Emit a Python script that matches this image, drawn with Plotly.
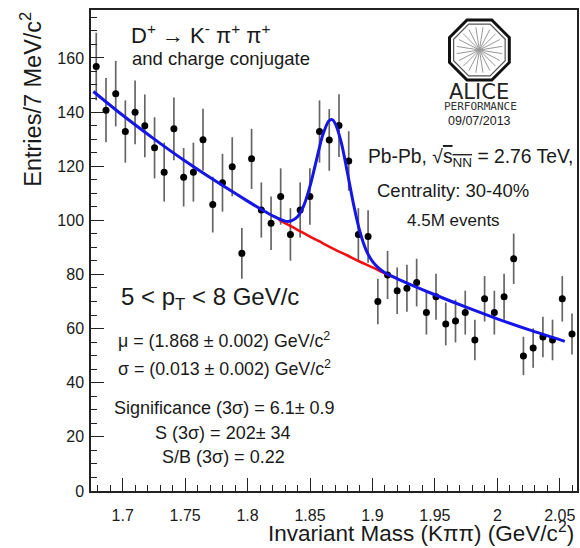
import math
import plotly.graph_objects as go

# ---------------- data ----------------
mass = [1.6788, 1.6866, 1.6944, 1.7021, 1.7099, 1.7177, 1.7255, 1.7332, 1.7410, 1.7488,
        1.7566, 1.7643, 1.7721, 1.7799, 1.7877, 1.7954, 1.8032, 1.8110, 1.8188, 1.8265,
        1.8343, 1.8421, 1.8499, 1.8576, 1.8654, 1.8732, 1.8810, 1.8887, 1.8965, 1.9043,
        1.9121, 1.9198, 1.9276, 1.9354, 1.9432, 1.9509, 1.9587, 1.9665, 1.9743, 1.9820,
        1.9898, 1.9976, 2.0054, 2.0131, 2.0209, 2.0287, 2.0365, 2.0442, 2.0520, 2.0598]
counts = [156.8, 140.7, 146.8, 132.8, 139.9, 134.9, 126.8, 117.8, 133.8, 115.9,
          117.8, 129.8, 105.8, 113.9, 119.8, 87.8, 122.7, 103.8, 98.9, 108.8,
          94.8, 103.8, 108.8, 132.8, 129.7, 135.0, 121.9, 94.8, 94.0, 70.0,
          79.8, 74.0, 74.9, 77.0, 65.9, 71.8, 61.7, 62.8, 65.9, 55.8,
          71.0, 65.9, 71.8, 85.8, 49.9, 52.8, 56.9, 55.8, 71.0, 58.0]
errors = [12.5, 11.9, 12.1, 11.5, 11.8, 11.6, 11.3, 10.9, 11.6, 10.8,
          10.9, 11.4, 10.3, 10.7, 10.9, 9.4, 11.1, 10.2, 9.9, 10.4,
          9.7, 10.2, 10.4, 11.5, 11.4, 11.6, 11.0, 9.7, 9.7, 8.4,
          8.9, 8.6, 8.7, 8.8, 8.1, 8.5, 7.9, 7.9, 8.1, 7.5,
          8.4, 8.1, 8.5, 9.3, 7.1, 7.3, 7.5, 7.5, 8.4, 7.6]

# total fit (blue)
fit_mass = [1.6765, 1.700, 1.725, 1.750, 1.775, 1.800, 1.810, 1.820, 1.830, 1.835,
            1.840, 1.845, 1.850, 1.855, 1.860, 1.865, 1.8678, 1.870, 1.875, 1.880,
            1.885, 1.890, 1.895, 1.900, 1.905, 1.910, 1.920, 1.950, 1.975, 2.000,
            2.025, 2.054]
fit_total = [147.6, 138.8, 130.1, 121.9, 114.3, 107.1, 104.3, 101.7, 99.7, 99.8,
             101.3, 105.4, 112.6, 122.0, 131.2, 136.7, 137.2, 135.9, 128.8, 117.5,
             105.6, 95.7, 88.9, 84.8, 82.3, 80.6, 78.4, 72.5, 67.9, 63.6,
             59.6, 55.3]

# background fit (red), visible part
bkg_mass = [1.825, 1.830, 1.840, 1.850, 1.860, 1.870, 1.880, 1.890, 1.900, 1.910, 1.920]
bkg_vals = [100.3, 99.0, 96.5, 94.0, 91.6, 89.2, 87.0, 84.7, 82.6, 80.4, 78.4]

x_tick_vals = [1.70, 1.75, 1.80, 1.85, 1.90, 1.95, 2.00, 2.05]
x_tick_text = ["1.7", "1.75", "1.8", "1.85", "1.9", "1.95", "2", "2.05"]
y_tick_vals = [0, 20, 40, 60, 80, 100, 120, 140, 160]
y_tick_text = ["0", "20", "40", "60", "80", "100", "120", "140", "160"]

# ---------------- layout geometry ----------------
W, H = 580, 548
L, R, T, B = 91, 1, 10, 57
PW, PH = W - L - R, H - T - B


def px(x):
    return (x - L) / PW


def py(y):
    return (H - B - y) / PH


FONT = "Liberation Sans, Arial, Helvetica, sans-serif"
TXT = "#1a1a1a"

fig = go.Figure()

fig.add_trace(go.Scatter(
    x=mass, y=counts, mode="markers",
    marker=dict(color="black", size=7),
    error_y=dict(type="data", array=errors, color="#666666", thickness=1.7, width=0),
    hoverinfo="skip", showlegend=False, cliponaxis=True))

fig.add_trace(go.Scatter(
    x=bkg_mass, y=bkg_vals, mode="lines",
    line=dict(color="#f01010", width=2.6, shape="spline"),
    hoverinfo="skip", showlegend=False))

fig.add_trace(go.Scatter(
    x=fit_mass, y=fit_total, mode="lines",
    line=dict(color="#1515e6", width=3, shape="spline", smoothing=0.8),
    hoverinfo="skip", showlegend=False))

annotations = []


def text(s, x, y, size, xanchor="left", color=TXT, family=FONT, angle=0, yanchor="middle"):
    annotations.append(dict(
        text=s, x=px(x), y=py(y), xref="paper", yref="paper",
        xanchor=xanchor, yanchor=yanchor, showarrow=False, textangle=angle,
        font=dict(size=size, color=color, family=family)))


text("D<sup>+</sup> → K<sup>-</sup> π<sup>+</sup> π<sup>+</sup>", 129, 34, 22)
text("and charge conjugate", 130, 58, 18.5)
text("Pb-Pb, √<span style='text-decoration:overline'>s<sub>NN</sub></span> = 2.76 TeV,", 367, 158, 19.3)
text("Centrality: 30-40%", 454, 191, 18.5, xanchor="center")
text("4.5M events", 455, 220, 17, xanchor="center")
text("5 < p<sub>T</sub> < 8 GeV/c", 119, 298, 24)
text("μ = (1.868 ± 0.002) GeV/c<sup>2</sup>", 116, 340, 17.8)
text("σ = (0.013 ± 0.002) GeV/c<sup>2</sup>", 116, 368, 17.8)
text("Significance (3σ) = 6.1± 0.9", 112, 408, 18)
text("S (3σ) = 202± 34", 224, 433, 18, xanchor="center")
text("S/B (3σ) = 0.22", 224, 457, 18, xanchor="center")

# axis titles
text("Entries/7 MeV/c<sup>2</sup>", 30, 10, 23.5, xanchor="center", angle=-90, yanchor="top")
text("Invariant Mass (Kππ) (GeV/c<sup>2</sup>)", 578, 532, 22.5, xanchor="right")

# ALICE logo texts
LOGO = "DejaVu Sans, sans-serif"
text("ALICE", 481, 92, 21, xanchor="center", family=LOGO, color="#222")
text("PERFORMANCE", 482, 106, 11, xanchor="center", family="DejaVu Sans Mono, monospace", color="#333")
text("09/07/2013", 481, 121, 12.5, xanchor="center", color="#222")

# ALICE logo octagon + spokes (pixel geometry)
shapes = []
cx, cy = 481, 50


def octagon_path(r):
    pts = []
    for k in range(8):
        a = math.radians(22.5 + 45 * k)
        pts.append((px(cx + r * math.cos(a)), py(cy - r * math.sin(a))))
    return "M " + " L ".join(f"{a:.5f},{b:.5f}" for a, b in pts) + " Z"


shapes.append(dict(type="path", path=octagon_path(32.5), xref="paper", yref="paper",
                   line=dict(color="#111", width=3)))
shapes.append(dict(type="path", path=octagon_path(28), xref="paper", yref="paper",
                   line=dict(color="#555", width=1.2)))
for k in range(10):
    a = math.radians(18 * k + 9)
    r = 23
    shapes.append(dict(type="line", xref="paper", yref="paper",
                       x0=px(cx - r * math.cos(a)), y0=py(cy + r * math.sin(a)),
                       x1=px(cx + r * math.cos(a)), y1=py(cy - r * math.sin(a)),
                       line=dict(color="#999", width=1)))

axis_common = dict(
    showline=True, linecolor="#222", linewidth=1.5, mirror=True,
    ticks="inside", ticklen=13, tickwidth=1.2, tickcolor="#222",
    showgrid=False, zeroline=False,
    tickfont=dict(family=FONT, size=16, color=TXT),
)

fig.update_layout(
    width=W, height=H,
    margin=dict(l=L, r=R, t=T, b=B),
    paper_bgcolor="white", plot_bgcolor="white",
    showlegend=False,
    xaxis=dict(range=[1.6746, 2.0638], tickmode="array", tickvals=x_tick_vals,
               ticktext=x_tick_text, ticklabelstandoff=9,
               minor=dict(ticks="inside", ticklen=6, tick0=1.70, dtick=0.01,
                          tickcolor="#222", tickwidth=1.2),
               **axis_common),
    yaxis=dict(range=[0, 177.7], tickmode="array", tickvals=y_tick_vals,
               ticktext=y_tick_text, ticklabelstandoff=2,
               minor=dict(ticks="inside", ticklen=6, tick0=0, dtick=5,
                          tickcolor="#222", tickwidth=1.2),
               **axis_common),
    annotations=annotations,
    shapes=shapes,
)

fig.write_html(
    "out.html",
    config={"displayModeBar": False},
    post_script="document.body.style.margin='0px';document.body.style.overflow='hidden';",
)
